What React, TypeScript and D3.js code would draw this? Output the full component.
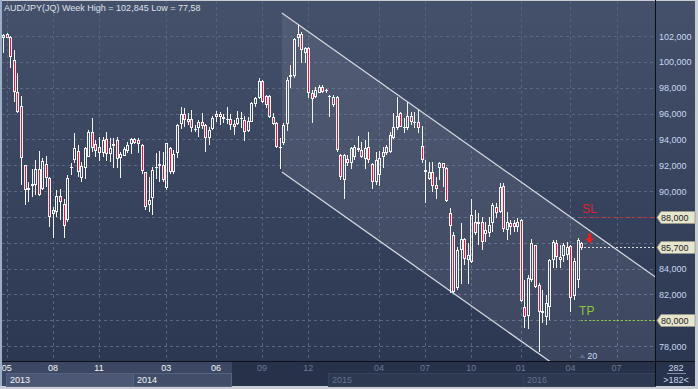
import React, { useEffect, useRef } from "react";
import * as d3 from "d3";

// weekly AUD/JPY candles
const opens = [
  101.85, 102.13, 101.95, 100.14, 97.69, 96.58, 92.01, 90.08, 90.41, 90.47,
  91.7, 90.13, 92.07, 91.03, 88.19, 88.4, 89.64, 88.97, 87.76, 91.76,
  92.4, 93.1, 90.98, 91.76, 92.66, 94.59, 93.61, 93.43, 92.92, 94.03,
  92.84, 93.51, 93.95, 92.53, 92.74, 93.1, 93.61, 94.0, 93.95, 93.56,
  91.5, 88.92, 89.43, 91.81, 91.96, 92.01, 90.21, 93.3, 91.5, 92.97,
  95.16, 95.94, 95.37, 95.55, 94.7, 94.9, 95.32, 95.11, 94.13, 94.8,
  95.76, 95.94, 95.76, 95.5, 95.55, 95.19, 95.16, 95.57, 95.5, 94.65,
  95.37, 96.74, 97.17, 98.52, 97.35, 97.38, 95.76, 95.24, 93.3, 93.69,
  95.16, 98.85, 98.93, 101.87, 102.15, 100.71, 101.1, 97.56, 97.25, 97.61,
  98.03, 97.77, 97.25, 97.25, 97.25, 92.79, 90.85, 92.45, 92.14, 92.61,
  93.18, 93.18, 92.45, 93.43, 92.09, 90.72, 91.24, 92.66, 92.92, 93.05,
  94.08, 94.85, 96.01, 94.85, 94.85, 95.81, 95.29, 95.37, 93.49, 91.5,
  90.91, 91.5, 90.47, 91.76, 92.14, 91.76, 88.33, 86.6, 82.47, 85.44,
  86.26, 84.66, 84.53, 87.63, 87.45, 87.63, 86.67, 86.73, 87.5, 88.79,
  88.4, 90.39, 86.98, 87.55, 87.55, 87.24, 87.76, 81.05, 80.3, 83.11,
  85.82, 82.73, 80.71, 80.28, 81.05, 84.66, 85.95, 84.66, 84.97, 85.05,
  85.75, 81.9, 83.11, 86.0,
];
const highs = [
  102.15, 102.2, 102.02, 100.92, 99.11, 97.35, 92.01, 90.72, 91.7, 92.4,
  93.1, 92.53, 92.71, 91.11, 88.79, 90.08, 90.13, 89.38, 91.24, 92.14,
  94.52, 93.56, 92.27, 93.43, 94.72, 95.63, 93.95, 94.21, 94.21, 94.54,
  94.08, 94.08, 94.21, 93.05, 93.43, 93.77, 94.08, 94.08, 94.08, 93.61,
  91.5, 91.11, 91.89, 92.97, 93.1, 93.05, 93.69, 93.43, 93.18, 95.19,
  96.53, 96.4, 96.01, 96.27, 95.11, 95.5, 96.06, 95.16, 94.98, 95.83,
  96.19, 96.09, 95.94, 96.53, 95.94, 95.5, 96.19, 96.09, 95.83, 95.76,
  96.86, 97.3, 98.72, 98.59, 97.43, 97.43, 96.01, 95.32, 94.08, 95.24,
  98.85, 99.75, 101.82, 102.85, 102.34, 101.17, 101.17, 97.82, 98.03, 98.21,
  98.21, 97.87, 97.43, 97.43, 97.36, 92.87, 92.87, 92.79, 93.43, 93.56,
  94.26, 93.82, 93.95, 94.59, 92.14, 93.05, 93.12, 93.43, 93.56, 94.59,
  96.01, 97.3, 96.14, 95.63, 96.92, 96.14, 96.14, 96.27, 95.03, 92.4,
  92.27, 92.27, 91.11, 92.27, 92.19, 91.83, 88.66, 86.86, 85.7, 87.5,
  86.34, 85.95, 89.36, 88.53, 88.27, 88.01, 87.63, 88.01, 89.05, 89.05,
  90.65, 90.6, 88.4, 87.76, 87.76, 87.89, 87.81, 83.11, 83.5, 86.3,
  85.82, 82.85, 82.34, 81.95, 84.71, 86.21, 86.21, 85.82, 85.95, 86.08,
  85.8, 84.79, 86.34, 86.08,
];
const lows = [
  100.7, 101.82, 99.55, 96.92, 96.01, 90.47, 88.92, 89.18, 89.56, 89.69,
  89.64, 90.08, 90.34, 87.24, 86.39, 88.01, 87.76, 86.39, 87.63, 91.24,
  92.14, 91.11, 90.72, 90.93, 92.61, 93.05, 92.66, 92.32, 92.66, 92.32,
  92.27, 91.76, 91.76, 91.03, 92.74, 92.92, 92.84, 93.61, 92.92, 91.29,
  88.53, 88.4, 88.14, 90.93, 90.72, 90.72, 90.08, 91.29, 91.29, 92.58,
  94.8, 94.98, 95.11, 94.54, 94.54, 94.21, 94.8, 93.0, 93.56, 94.72,
  95.37, 95.11, 95.24, 95.16, 94.72, 94.34, 95.11, 94.85, 93.87, 94.54,
  95.32, 96.53, 97.12, 96.79, 96.45, 95.68, 95.11, 93.36, 91.7, 93.56,
  94.65, 97.95, 98.72, 101.17, 99.88, 99.88, 97.18, 95.24, 97.18, 97.56,
  97.56, 97.61, 95.76, 96.53, 93.05, 90.85, 89.36, 91.94, 91.68, 92.4,
  93.05, 92.53, 91.68, 92.19, 90.13, 90.47, 90.39, 91.76, 92.79, 92.97,
  94.0, 94.72, 94.93, 94.47, 94.72, 95.11, 94.85, 94.47, 92.14, 89.1,
  90.85, 89.95, 89.36, 90.85, 90.34, 89.18, 82.08, 82.08, 82.34, 82.78,
  84.27, 82.8, 84.46, 86.6, 85.82, 85.44, 86.08, 86.47, 86.85, 87.89,
  88.27, 86.85, 86.21, 86.6, 86.85, 86.85, 81.44, 79.37, 79.3, 82.98,
  82.47, 77.57, 79.76, 79.63, 80.02, 84.02, 84.02, 84.02, 84.53, 84.66,
  80.66, 81.57, 82.47, 85.44,
];
const closes = [
  102.05, 101.87, 100.4, 97.69, 96.09, 92.58, 90.08, 90.21, 90.52, 91.7,
  89.69, 92.32, 90.98, 88.01, 88.53, 89.61, 89.12, 87.32, 90.98, 91.89,
  93.3, 91.5, 91.94, 93.3, 94.59, 93.36, 93.1, 92.92, 93.95, 92.84,
  93.3, 93.64, 92.45, 92.84, 93.25, 93.56, 94.0, 93.69, 93.64, 91.58,
  88.79, 89.3, 91.63, 91.89, 92.07, 90.85, 93.69, 91.5, 92.87, 95.11,
  95.94, 95.5, 95.55, 94.85, 94.8, 95.32, 95.03, 94.08, 94.72, 95.68,
  95.94, 95.76, 95.57, 95.57, 95.11, 94.98, 95.63, 95.63, 94.59, 95.42,
  96.79, 97.17, 98.52, 96.92, 96.66, 95.76, 95.16, 93.43, 93.43, 95.11,
  98.6, 98.98, 101.77, 102.15, 100.92, 101.05, 97.56, 97.1, 97.82, 98.03,
  97.69, 97.8, 97.36, 96.66, 93.18, 91.11, 92.79, 92.14, 93.3, 93.43,
  93.36, 92.66, 93.3, 92.4, 90.72, 92.4, 92.53, 93.05, 93.43, 94.34,
  94.98, 95.81, 94.98, 94.98, 95.81, 95.37, 95.37, 94.85, 92.4, 91.63,
  91.45, 90.39, 90.13, 92.14, 91.76, 89.26, 87.29, 82.16, 85.44, 86.26,
  84.71, 85.05, 88.14, 86.78, 87.63, 86.08, 86.98, 87.37, 88.92, 88.33,
  90.34, 87.04, 87.63, 87.24, 87.24, 87.63, 81.51, 80.22, 83.24, 86.0,
  82.6, 80.66, 80.58, 81.31, 84.66, 86.08, 84.92, 84.87, 85.82, 85.69,
  81.7, 84.6, 86.21, 85.56,
];

const yTicks = [78, 80, 82, 84, 86, 88, 90, 92, 94, 96, 98, 100, 102];
const monthLabels = ["05", "08", "11", "03", "06", "09", "12", "04", "07", "10", "01", "04", "07"];
const monthIdx = [1, 14, 27, 46, 60, 73, 86, 106, 119, 132, 146, 160, 173];
const yearLabels = ["2013", "2014", "2015", "2016"];
const yearIdx = [1, 37, 92, 147];

// trade levels
const stopLoss = 88;
const entry = 85.7;
const takeProfit = 80;
const tagLevels = [88, 85.7, 80];
const tagTexts = ["88,000", "85,700", "80,000"];

// descending channel (week index, price)
const channelStart = 78.6;
const channelEnd = 184;
const upperStart = 103.78;
const lowerStart = 91.47;
const channelSlope = -0.194;

const W = 698;
const H = 389;
const plotLeft = 2;
const plotRight = 655;
const plotBottom = 361;
const font = "'Liberation Sans', Arial, sans-serif";

const App = () => {
  const ref = useRef<SVGSVGElement>(null);

  useEffect(() => {
    const svg = d3.select(ref.current);
    svg.selectAll("*").remove();

    const x = d3.scaleLinear().domain([0, 163]).range([3.3, 581.1]);
    const y = d3.scaleLinear().domain([78, 102]).range([346, 36]);

    const defs = svg.append("defs");
    const grad = defs
      .append("linearGradient")
      .attr("id", "bg")
      .attr("x1", 0)
      .attr("y1", 0)
      .attr("x2", 0)
      .attr("y2", 1);
    grad.append("stop").attr("offset", "0%").attr("stop-color", "#45506b");
    grad.append("stop").attr("offset", "100%").attr("stop-color", "#2c3751");
    defs
      .append("clipPath")
      .attr("id", "plotClip")
      .append("rect")
      .attr("x", plotLeft)
      .attr("y", 1)
      .attr("width", plotRight - plotLeft)
      .attr("height", plotBottom - 1);

    // frame + panels
    svg.append("rect").attr("width", W).attr("height", H).attr("fill", "#c8ccd4");
    svg.append("rect").attr("x", 0).attr("y", 0).attr("width", 2).attr("height", 386).attr("fill", "#9cadc6");
    svg
      .append("rect")
      .attr("x", plotLeft)
      .attr("y", 1)
      .attr("width", 695 - plotLeft)
      .attr("height", plotBottom - 1)
      .attr("fill", "url(#bg)");

    // bottom axis bands
    const darkFrom = x(64.5);
    svg.append("rect").attr("x", plotLeft).attr("y", plotBottom).attr("width", 695 - plotLeft).attr("height", 25).attr("fill", "#27314a");
    svg.append("rect").attr("x", plotLeft).attr("y", plotBottom).attr("width", darkFrom - plotLeft).attr("height", 25).attr("fill", "#3b4763");

    const yearFills = ["#4b5774", "#414d69", "#2d3851", "#2d3851"];
    yearIdx.forEach((yi, k) => {
      const x0 = Math.round(x(yi)) - 1;
      let x1 = k < yearIdx.length - 1 ? Math.round(x(yearIdx[k + 1])) - 1 : plotRight;
      if (k === 1) x1 = darkFrom;
      svg
        .append("rect")
        .attr("x", x0)
        .attr("y", 373)
        .attr("width", x1 - x0)
        .attr("height", 13)
        .attr("fill", yearFills[k])
        .attr("stroke", k < 2 ? "#56627e" : "#36415a")
        .attr("stroke-width", 1)
        .attr("shape-rendering", "crispEdges");
      svg
        .append("text")
        .attr("x", x0 + 4)
        .attr("y", 383)
        .attr("font-family", font)
        .attr("font-size", 9)
        .attr("fill", k < 2 ? "#f2f4f8" : "#66718b")
        .text(yearLabels[k]);
    });

    monthIdx.forEach((mi, k) => {
      svg
        .append("text")
        .attr("x", x(mi))
        .attr("y", 371)
        .attr("text-anchor", "middle")
        .attr("font-family", font)
        .attr("font-size", 9)
        .attr("fill", x(mi) < darkFrom ? "#f2f4f8" : "#6c7791")
        .text(monthLabels[k]);
    });

    // grid
    const grid = svg.append("g").attr("clip-path", "url(#plotClip)").attr("shape-rendering", "crispEdges");
    yTicks.forEach((t) => {
      grid
        .append("line")
        .attr("x1", plotLeft)
        .attr("x2", plotRight)
        .attr("y1", Math.round(y(t)) + 0.5)
        .attr("y2", Math.round(y(t)) + 0.5)
        .attr("stroke", "#5a6682")
        .attr("stroke-dasharray", "3,3");
    });
    monthIdx.forEach((mi) => {
      grid
        .append("line")
        .attr("x1", Math.round(x(mi)) + 0.5)
        .attr("x2", Math.round(x(mi)) + 0.5)
        .attr("y1", 1)
        .attr("y2", plotBottom)
        .attr("stroke", "#56627e")
        .attr("stroke-dasharray", "3,3");
    });

    // channel
    const chan = svg.append("g").attr("clip-path", "url(#plotClip)");
    const span = channelEnd - channelStart;
    const pts: [number, number][] = [
      [x(channelStart), y(upperStart)],
      [x(channelEnd), y(upperStart + channelSlope * span)],
      [x(channelEnd), y(lowerStart + channelSlope * span)],
      [x(channelStart), y(lowerStart)],
    ];
    chan
      .append("path")
      .attr("d", "M" + pts.map((p) => p.join(",")).join("L") + "Z")
      .attr("fill", "#ffffff")
      .attr("fill-opacity", 0.08);
    [
      [pts[0], pts[1]],
      [pts[3], pts[2]],
    ].forEach(([a, b]) => {
      chan
        .append("line")
        .attr("x1", a[0])
        .attr("y1", a[1])
        .attr("x2", b[0])
        .attr("y2", b[1])
        .attr("stroke", "#d2d6de")
        .attr("stroke-width", 1.3);
    });

    // candles
    const candles = svg.append("g").attr("clip-path", "url(#plotClip)").attr("shape-rendering", "crispEdges");
    opens.forEach((o, i) => {
      const c = closes[i];
      const cx = Math.round(x(i));
      const top = Math.round(y(Math.max(o, c)));
      const bot = Math.round(y(Math.min(o, c)));
      const hi = Math.round(y(highs[i]));
      const lo = Math.round(y(lows[i]));
      candles
        .append("line")
        .attr("x1", cx + 0.5)
        .attr("x2", cx + 0.5)
        .attr("y1", hi)
        .attr("y2", top)
        .attr("stroke", "#f4f4f4");
      candles
        .append("line")
        .attr("x1", cx + 0.5)
        .attr("x2", cx + 0.5)
        .attr("y1", bot)
        .attr("y2", lo)
        .attr("stroke", "#f4f4f4");
      if (bot - top < 3) {
        candles
          .append("rect")
          .attr("x", cx - 1)
          .attr("y", top)
          .attr("width", 3)
          .attr("height", Math.max(1, bot - top))
          .attr("fill", "#f4f4f4");
      } else {
        candles
          .append("rect")
          .attr("x", cx - 0.5)
          .attr("y", top + 0.5)
          .attr("width", 2)
          .attr("height", bot - top - 1)
          .attr("fill", c < o ? "#e3173e" : "none")
          .attr("stroke", "#f4f4f4");
      }
    });

    // levels
    const lx = x(163);
    const levels = svg.append("g").attr("shape-rendering", "crispEdges");
    [
      [stopLoss, "#d8242c"],
      [entry, "#d8dce4"],
      [takeProfit, "#8cc43c"],
    ].forEach(([v, col]) => {
      levels
        .append("line")
        .attr("x1", v === entry ? lx + 3 : lx)
        .attr("x2", plotRight)
        .attr("y1", Math.round(y(v as number)) + 0.5)
        .attr("y2", Math.round(y(v as number)) + 0.5)
        .attr("stroke", col as string)
        .attr("stroke-dasharray", "2,2");
    });
    svg
      .append("text")
      .attr("x", lx + 1)
      .attr("y", y(stopLoss) - 4)
      .attr("font-family", font)
      .attr("font-size", 12)
      .attr("fill", "#e0202c")
      .text("SL");
    svg
      .append("text")
      .attr("x", lx - 2)
      .attr("y", y(takeProfit) - 5)
      .attr("font-family", font)
      .attr("font-size", 12)
      .attr("fill", "#8cc43c")
      .text("TP");

    // sell arrow
    const ax = x(165.4);
    const ay = y(entry) - 3;
    svg
      .append("path")
      .attr(
        "d",
        `M${ax - 1.5},${ay - 10}L${ax + 1.5},${ay - 10}L${ax + 1.5},${ay - 5}L${ax + 4.5},${ay - 5}L${ax},${ay}L${ax - 4.5},${ay - 5}L${ax - 1.5},${ay - 5}Z`
      )
      .attr("fill", "#f01c1c");

    // right axis
    svg
      .append("rect")
      .attr("x", plotRight)
      .attr("y", 0)
      .attr("width", 1)
      .attr("height", 386)
      .attr("fill", "#0c0f16");
    svg
      .append("rect")
      .attr("x", plotLeft)
      .attr("y", plotBottom)
      .attr("width", 695 - plotLeft)
      .attr("height", 1)
      .attr("fill", "#0c0f16");

    // tick labels hidden behind a price tag are left out
    yTicks
      .filter((t) => tagLevels.every((v) => Math.abs(y(v) - y(t)) > 8))
      .forEach((t) => {
        svg
          .append("text")
          .attr("x", 659)
          .attr("y", y(t) + 3.5)
          .attr("font-family", font)
          .attr("font-size", 9)
          .attr("fill", "#c8d8f0")
          .text(d3.format(",.3f")(t).replace(".", ","));
      });

    tagLevels.forEach((v, k) => {
      const ty = Math.round(y(v)) + 0.5;
      svg
        .append("path")
        .attr("d", `M657,${ty}L661,${ty - 6}L695,${ty - 6}L695,${ty + 6}L661,${ty + 6}Z`)
        .attr("fill", "#e6e6cf")
        .attr("stroke", "#9a9a86")
        .attr("stroke-width", 0.8);
      svg
        .append("text")
        .attr("x", 661)
        .attr("y", ty + 3.5)
        .attr("font-family", font)
        .attr("font-size", 9)
        .attr("fill", "#1c1c1c")
        .text(tagTexts[k]);
    });

    // corner box
    svg.append("rect").attr("x", 656).attr("y", 362).attr("width", 39).attr("height", 24).attr("fill", "#28324a");
    svg
      .append("text")
      .attr("x", 676)
      .attr("y", 370.5)
      .attr("text-anchor", "middle")
      .attr("font-family", font)
      .attr("font-size", 9)
      .attr("fill", "#c8d8f0")
      .text("282");
    svg
      .append("line")
      .attr("x1", 667)
      .attr("x2", 686)
      .attr("y1", 373.5)
      .attr("y2", 373.5)
      .attr("stroke", "#7d8aa2");
    svg
      .append("text")
      .attr("x", 676)
      .attr("y", 383)
      .attr("text-anchor", "middle")
      .attr("font-family", font)
      .attr("font-size", 9)
      .attr("fill", "#c8d8f0")
      .text(">182<");

    // countdown marker
    const cx20 = x(164.2);
    svg
      .append("path")
      .attr("d", `M${cx20 - 6},358L${cx20 - 3},354L${cx20},358Z`)
      .attr("fill", "#5f6a82");
    svg
      .append("text")
      .attr("x", cx20 + 2)
      .attr("y", 359)
      .attr("font-family", font)
      .attr("font-size", 9)
      .attr("fill", "#c8d8f0")
      .text("20");

    // title
    svg
      .append("text")
      .attr("x", 4)
      .attr("y", 11)
      .attr("font-family", font)
      .attr("font-size", 9)
      .attr("fill", "#dde2ea")
      .text("AUD/JPY(JQ) Week High = 102,845 Low = 77,58");
  }, []);

  return (
    <div>
      <style>{`body{margin:0;}`}</style>
      <svg ref={ref} width={W} height={H} style={{ display: "block" }} />
    </div>
  );
};

export default App;
